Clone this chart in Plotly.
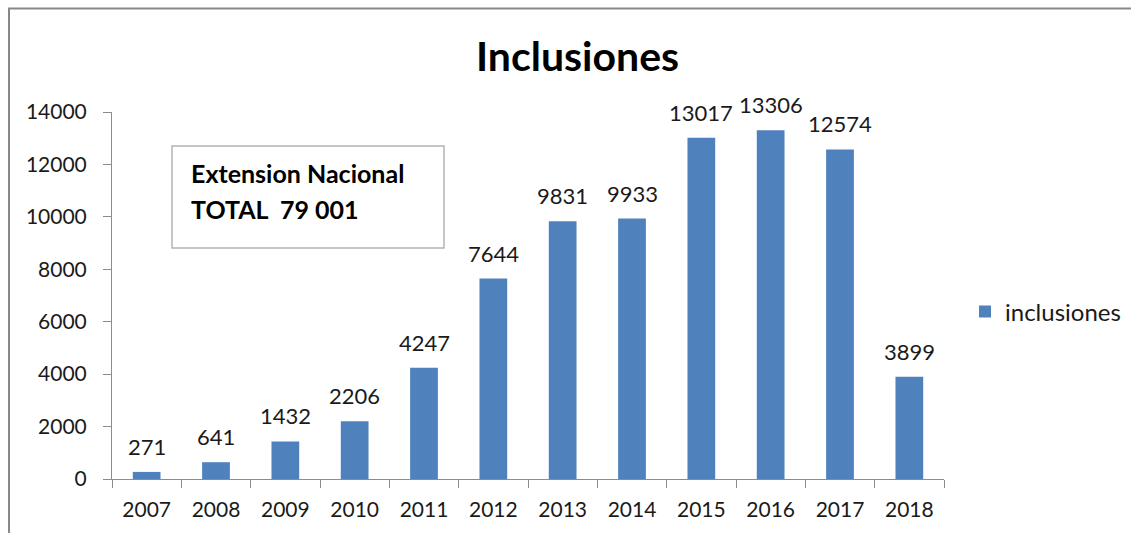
import plotly.graph_objects as go

years = ["2007", "2008", "2009", "2010", "2011", "2012", "2013", "2014", "2015", "2016", "2017", "2018"]
inclusiones = [271, 641, 1432, 2206, 4247, 7644, 9831, 9933, 13017, 13306, 12574, 3899]
series_name = "inclusiones"
title_text = "Inclusiones"
box_lines = ["Extension Nacional", "TOTAL  79 001"]
y_ticks = [0, 2000, 4000, 6000, 8000, 10000, 12000, 14000]

# page body margin is removed in post_script, so layout is in reference pixels
W, H = 1131, 533
PL, PR, PT, PB = 112, 944, 112, 479  # plot area in reference pixels
L, T = PL, PT
PW, PH = PR - PL, PB - PT
R = W - L - PW
B = H - T - PH

def px(x):
    return (x - PL) / PW

def py(y):
    return (PB - y) / PH

FONT = "Lato"
BLUE = "#4F81BD"
AXIS = "#8c8c8c"
TXT = "#1a1a1a"

fig = go.Figure()
fig.add_trace(go.Bar(
    x=years, y=inclusiones, name=series_name,
    marker=dict(color=BLUE, line=dict(width=0)),
    width=0.4, showlegend=True,
))

annotations = []
for i, v in enumerate(inclusiones):
    annotations.append(dict(
        x=i, y=v, xref="x", yref="y", text=str(v), showarrow=False,
        xanchor="center", yanchor="bottom", yshift=10,
        font=dict(family=FONT, size=22, color=TXT),
    ))

annotations.append(dict(
    x=px(577), y=py(55), xref="paper", yref="paper", text="<b>" + title_text + "</b>",
    showarrow=False, xanchor="center", yanchor="middle",
    font=dict(family=FONT, size=41, color="#000000"),
))

annotations.append(dict(
    x=px(189), y=py(173), xref="paper", yref="paper", text="<b>" + box_lines[0] + "</b>",
    showarrow=False, xanchor="left", yanchor="middle",
    font=dict(family=FONT, size=25, color="#000000"),
))
annotations.append(dict(
    x=px(189), y=py(209), xref="paper", yref="paper", text="<b>" + box_lines[1] + "</b>",
    showarrow=False, xanchor="left", yanchor="middle",
    font=dict(family=FONT, size=25, color="#000000"),
))

shapes = [
    dict(type="rect", xref="paper", yref="paper",
         x0=px(9), x1=px(1200), y0=py(600), y1=py(8.5),
         line=dict(color="#888888", width=2), fillcolor="rgba(0,0,0,0)", layer="above"),
    dict(type="rect", xref="paper", yref="paper",
         x0=px(172), x1=px(444), y0=py(248), y1=py(146),
         line=dict(color="#b4b4b4", width=1.5), fillcolor="white", layer="above"),
]

fig.update_layout(
    width=W, height=H,
    margin=dict(l=L, r=R, t=T, b=B, autoexpand=False),
    paper_bgcolor="white", plot_bgcolor="white",
    font=dict(family=FONT, size=21, color=TXT),
    showlegend=True,
    legend=dict(
        x=px(965), y=py(312), xanchor="left", yanchor="middle",
        bgcolor="rgba(0,0,0,0)", borderwidth=0,
        font=dict(family=FONT, size=24, color=TXT),
        itemwidth=30,
    ),
    xaxis=dict(
        type="category", showgrid=False, zeroline=False,
        showline=True, linecolor=AXIS, linewidth=1,
        ticks="outside", tickson="boundaries", ticklen=8, tickcolor=AXIS,
        tickfont=dict(family=FONT, size=21, color=TXT),
        ticklabelstandoff=12,
        range=[-0.5, 11.5],
    ),
    yaxis=dict(
        range=[0, 14000], tickvals=y_ticks, tickformat="d",
        showgrid=False, zeroline=False,
        showline=True, linecolor=AXIS, linewidth=1,
        ticks="outside", ticklen=8, tickcolor=AXIS,
        tickfont=dict(family=FONT, size=21, color=TXT),
        ticklabelstandoff=12,
    ),
    annotations=annotations,
    shapes=shapes,
)

fig.write_html(
    "out.html",
    config={"displayModeBar": False},
    post_script="document.body.style.margin='0';document.body.style.overflow='hidden';",
)
